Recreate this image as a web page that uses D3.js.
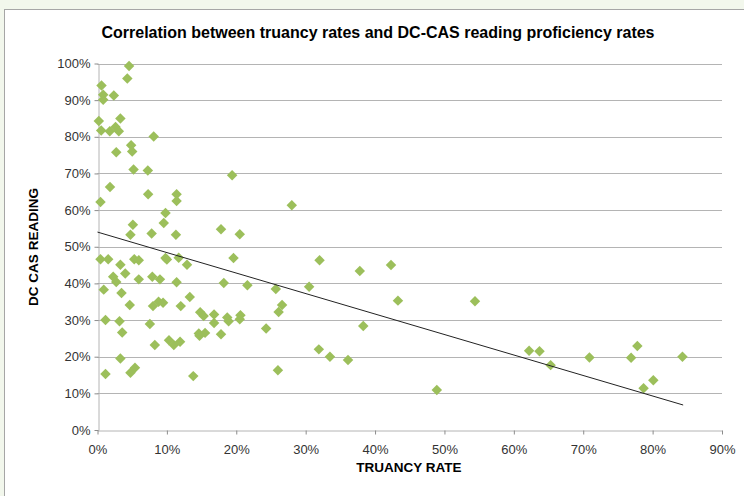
<!DOCTYPE html>
<html>
<head>
<meta charset="utf-8">
<script src="https://cdn.jsdelivr.net/npm/d3@7"></script>
<style>
  body { margin: 0; background: #f2f7ec; }
  svg { display: block; }
</style>
</head>
<body>
<svg id="chart" width="744" height="496"></svg>
<script>
// truancy rate (%) per school
var truancy = [4.55, 4.3, 0.58, 0.82, 2.35, 0.82, 0.19, 3.3, 0.53, 1.77, 2.6, 3.07, 8.1, 4.85, 5.0, 2.7, 5.2, 7.25,
    1.8, 0.43, 7.3, 11.4, 11.4, 9.8, 9.55, 5.1, 4.75, 7.8, 11.3, 0.43, 1.54, 3.3, 5.3, 5.95, 9.8, 10.0, 11.7, 12.9,
    2.26, 2.7, 4.0, 5.95, 7.9, 9.0, 11.4, 0.9, 3.46, 4.65, 8.0, 8.8, 9.45, 12.0, 13.3,
    1.15, 3.17, 3.56, 7.55, 8.26, 10.3, 11.0, 11.9, 14.6, 3.3, 1.15, 4.75, 5.4, 13.8,
    19.4, 28.0, 17.8, 20.5, 19.6, 32.0, 18.2, 21.6, 25.7, 30.5,
    14.8, 15.3, 16.8, 16.8, 18.7, 20.6, 20.5, 18.9, 26.6, 26.1, 14.7, 15.5, 17.8, 24.3, 38.3,
    31.9, 33.5, 36.1, 26.0, 37.8, 42.3, 43.3, 54.4, 48.9,
    62.2, 63.7, 65.3, 70.9, 76.9, 77.8, 80.1, 78.7, 84.3];
// DC-CAS reading proficiency (%) per school
var reading = [99.3, 95.9, 94.0, 91.5, 91.3, 90.1, 84.3, 85.0, 81.7, 81.5, 82.7, 81.5, 80.1, 77.7, 76.0, 75.8, 71.1, 70.8,
    66.3, 62.2, 64.3, 64.3, 62.5, 59.2, 56.5, 56.0, 53.3, 53.6, 53.3, 46.6, 46.6, 45.1, 46.6, 46.3, 46.9, 46.5, 47.0, 45.1,
    41.8, 40.4, 42.7, 41.1, 41.8, 41.1, 40.3, 38.3, 37.4, 34.1, 33.8, 35.0, 34.7, 33.8, 36.3,
    30.0, 29.7, 26.6, 28.9, 23.2, 24.5, 23.2, 24.1, 26.3, 19.5, 15.3, 15.6, 17.0, 14.7,
    69.5, 61.3, 54.8, 53.4, 46.9, 46.3, 40.1, 39.5, 38.5, 39.1,
    32.1, 31.1, 31.5, 29.2, 30.7, 31.3, 30.2, 29.7, 34.1, 32.2, 25.7, 26.5, 26.1, 27.7, 28.4,
    22.0, 20.0, 19.1, 16.3, 43.4, 45.0, 35.3, 35.1, 10.9,
    21.6, 21.5, 17.7, 19.8, 19.7, 22.9, 13.6, 11.4, 20.0];
// linear trend line: reading = intercept + slope * truancy
var trendIntercept = 54.0;
var trendSlope = -0.559;
var trendRange = [0, 84.4];

var xTicks = [0, 10, 20, 30, 40, 50, 60, 70, 80, 90];
var yTicks = [0, 10, 20, 30, 40, 50, 60, 70, 80, 90, 100];

var svg = d3.select('#chart');

// white chart frame
svg.append('rect')
    .attr('x', 4.5).attr('y', 9.5)
    .attr('width', 760).attr('height', 500)
    .attr('fill', '#fff')
    .attr('stroke', '#a6a6a6');

var x = d3.scaleLinear().domain([0, 90]).range([97.5, 722]);
var y = d3.scaleLinear().domain([0, 100]).range([430, 63.5]);

// gridlines
svg.append('g')
    .selectAll('line')
    .data(yTicks.slice(1))
    .enter()
    .append('line')
        .attr('x1', x(0)).attr('x2', x(90))
        .attr('y1', d => Math.round(y(d)) + 0.5)
        .attr('y2', d => Math.round(y(d)) + 0.5)
        .attr('stroke', '#b4b4b4')
        .attr('stroke-width', 1);

var xAxis = svg.append('g')
    .attr('transform', 'translate(0,' + (Math.round(y(0)) + 0.5) + ')')
    .call(d3.axisBottom(x).tickValues(xTicks).tickSize(4).tickSizeOuter(0).tickFormat(d => d + '%'));

var yAxis = svg.append('g')
    .attr('transform', 'translate(' + (Math.round(x(0)) + 0.5) + ',0)')
    .call(d3.axisLeft(y).tickValues(yTicks).tickSize(4).tickSizeOuter(0).tickFormat(d => d + '%'));

[xAxis, yAxis].forEach(function(a) {
    a.select('.domain').attr('stroke', '#b4b4b4');
    a.selectAll('.tick line').attr('stroke', '#8c8c8c');
    a.selectAll('.tick text')
        .attr('fill', '#333')
        .style('font-family', 'Liberation Sans, Arial, sans-serif')
        .style('font-size', '13px');
});
xAxis.selectAll('.tick text').attr('dy', '1.25em');
yAxis.selectAll('.tick text').attr('x', -8);

// points
var diamond = d3.symbol().type(d3.symbolDiamond2).size(70);
svg.append('g')
    .selectAll('path')
    .data(d3.zip(truancy, reading))
    .enter()
    .append('path')
        .attr('transform', d => 'translate(' + x(d[0]) + ',' + y(d[1]) + ')')
        .attr('d', diamond)
        .attr('fill', '#9cbf5b');

// trend line
svg.append('line')
    .attr('x1', x(trendRange[0]))
    .attr('y1', y(trendIntercept + trendSlope * trendRange[0]))
    .attr('x2', x(trendRange[1]))
    .attr('y2', y(trendIntercept + trendSlope * trendRange[1]))
    .attr('stroke', '#222')
    .attr('stroke-width', 1);

// titles
svg.append('text')
    .attr('x', 378).attr('y', 38)
    .attr('text-anchor', 'middle')
    .style('font-family', 'Liberation Sans, Arial, sans-serif')
    .style('font-size', '16px')
    .style('font-weight', 'bold')
    .text('Correlation between truancy rates and DC-CAS reading proficiency rates');

svg.append('text')
    .attr('x', 409).attr('y', 472)
    .attr('text-anchor', 'middle')
    .style('font-family', 'Liberation Sans, Arial, sans-serif')
    .style('font-size', '13.5px')
    .style('font-weight', 'bold')
    .text('TRUANCY RATE');

svg.append('text')
    .attr('transform', 'translate(38,247) rotate(-90)')
    .attr('text-anchor', 'middle')
    .style('font-family', 'Liberation Sans, Arial, sans-serif')
    .style('font-size', '13.5px')
    .style('font-weight', 'bold')
    .text('DC CAS READING');
</script>
</body>
</html>
